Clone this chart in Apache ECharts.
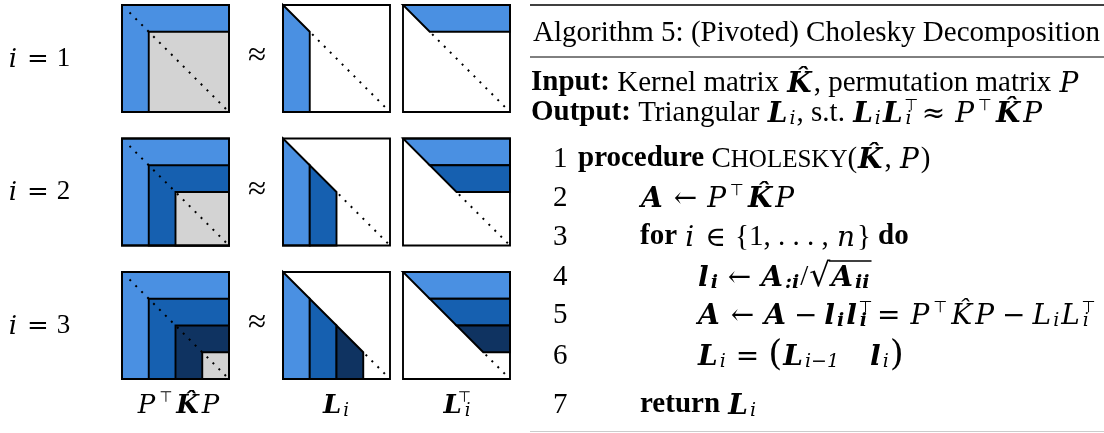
<!DOCTYPE html>
<html>
<head>
<meta charset="utf-8">
<script src="https://cdn.jsdelivr.net/npm/echarts@6/dist/echarts.min.js"></script>
<style>
  html, body { margin: 0; padding: 0; background: #fff; }
  #chart { width: 1104px; height: 433px; }
</style>
</head>
<body>
<div id="chart"></div>
<script>
// Pivot steps shown row by row, and the block layout of each matrix
const steps = [1, 2, 3];
const blockCount = 4;                       // each matrix is split into 4 x 4 blocks
const panels = ['kernel', 'factor', 'factorT'];
const blockColors = ['#4a90e2', '#1660b0', '#0f3361'];
const residualColor = '#d3d3d3';

// line numbers of the algorithm listing
const lineNumbers = ['1', '2', '3', '4', '5', '6', '7'];

const SERIF = 'Liberation Serif';
const MATH = 'DejaVu Serif';
const SYM = 'DejaVu Sans';
const BLACK = '#000';
const GRAY = '#858585';
const BLUE = '#2f80c0';

// geometry of the matrix panels
const colLeft = [122, 283, 403];
const rowTop = [5, 138.5, 272];
const boxSize = 107;

// rich-text styles for a given body size S
function makeRich(S) {
  const lh = Math.round(S * 1.26);
  const M = Math.round(S * 0.98);           // math letters (wider face)
  const sub = Math.round(S * 0.66);
  const supS = Math.round(S * 0.56);
  const subPad = [Math.round(S * 0.44), 1, 0, 0];
  const supPad = [0, 3, Math.round(S * 0.5), 2];
  const thick = Math.round(S * 0.3);
  const med = Math.round(S * 0.22);
  const text = { fontFamily: SERIF, fontSize: S, lineHeight: lh, color: BLACK };
  const math = { fontFamily: MATH, fontSize: M, lineHeight: lh, color: BLACK, fontStyle: 'italic', padding: [3, 2, 0, 1] };
  const mk = (base, extra) => Object.assign({}, base, extra);
  return {
    n: text,
    b: mk(text, { fontWeight: 'bold' }),
    g: mk(text, { color: GRAY }),
    blue: mk(text, { color: BLUE }),
    sc: mk(text, { fontSize: Math.round(S * 0.86), lineHeight: Math.round(S * 0.86), padding: [3, 0, 0, 0] }),
    mi: math,
    mb: mk(math, { fontWeight: 'bold' }),
    gmi: mk(math, { color: GRAY }),
    // relations with thick spacing, binary operators with medium spacing
    rel: mk(math, { fontStyle: 'normal', padding: [3, thick, 0, thick] }),
    grel: mk(math, { fontStyle: 'normal', color: GRAY, padding: [3, thick, 0, thick] }),
    bin: mk(math, { fontStyle: 'normal', padding: [3, med, 0, med] }),
    gbin: mk(math, { fontStyle: 'normal', color: GRAY, padding: [3, med, 0, med] }),
    mn: mk(text, {}),
    paren: mk(math, { fontStyle: 'normal', fontSize: Math.round(S * 1.25), padding: [0, 0, 0, 0] }),
    rad: mk(math, { fontStyle: 'normal', fontSize: Math.round(S * 1.15), padding: [0, 0, 0, 1] }),
    sub: { fontFamily: MATH, fontSize: sub, lineHeight: sub, fontStyle: 'italic', color: BLACK, padding: subPad },
    subb: { fontFamily: MATH, fontSize: sub, lineHeight: sub, fontStyle: 'italic', fontWeight: 'bold', color: BLACK, padding: subPad },
    gsub: { fontFamily: MATH, fontSize: sub, lineHeight: sub, fontStyle: 'italic', color: GRAY, padding: subPad },
    sup: { fontFamily: SYM, fontSize: supS, lineHeight: supS, color: BLACK, padding: supPad },
    gsup: { fontFamily: SYM, fontSize: supS, lineHeight: supS, color: GRAY, padding: supPad },
    // superscript stacked over the following subscript
    supk: { fontFamily: SYM, fontSize: supS, lineHeight: supS, color: BLACK, width: 1, padding: [0, 0, Math.round(S * 0.5), 0] },
    gsupk: { fontFamily: SYM, fontSize: supS, lineHeight: supS, color: GRAY, width: 1, padding: [0, 0, Math.round(S * 0.5), 0] }
  };
}

const KHAT = 'K\u0302';
const ARROW = '\u2190', TR = '\u22A4', MINUS = '\u2212';

const S_BODY = 29;
const richL = makeRich(S_BODY);
const richS = makeRich(27);

// token lists: [styleName, text]
const str = toks => toks.map(([s, x]) => s === '' ? x : '{' + s + '|' + x + '}').join('');

const header = [
  { x: 533, y: 33, toks: [['blue', 'Algorithm 5:'], ['n', ' (Pivoted) Cholesky Decomposition']] },
  { x: 531, y: 83, toks: [['b', 'Input:'], ['n', ' Kernel matrix '], ['mb', KHAT], ['n', ', '], ['g', 'permutation matrix '], ['gmi', 'P']] },
  { x: 531, y: 113, toks: [['b', 'Output:'], ['n', ' Triangular '], ['mb', 'L'], ['sub', 'i'], ['n', ', s.t. '], ['mb', 'L'], ['sub', 'i'],
      ['mb', 'L'], ['supk', TR], ['sub', 'i'], ['rel', '\u2248'], ['gmi', 'P'], ['gsup', TR], ['mb', KHAT], ['gmi', 'P']] }
];

const listing = [
  { x: 578, y: 159, toks: [['b', 'procedure '], ['n', 'C'], ['sc', 'HOLESKY'], ['n', '('], ['mb', KHAT], ['n', ', '], ['gmi', 'P'], ['n', ')']] },
  { x: 640, y: 198, toks: [['mb', 'A'], ['rel', ARROW], ['gmi', 'P'], ['gsup', TR], ['mb', KHAT], ['gmi', 'P']] },
  { x: 640, y: 237, toks: [['b', 'for '], ['mi', 'i'], ['rel', '\u2208'], ['mn', '{1, . . . , '], ['mi', 'n'], ['', '} '], ['b', 'do']] },
  { x: 697, y: 277, toks: [['mb', 'l'], ['subb', 'i'], ['rel', ARROW], ['mb', 'A'], ['subb', ':i'], ['mn', '/'], ['rad', '\u221A'], ['mb', 'A'], ['subb', 'ii']] },
  { x: 697, y: 315, toks: [['mb', 'A'], ['rel', ARROW], ['mb', 'A'], ['bin', MINUS], ['mb', 'l'], ['subb', 'i'], ['mb', 'l'], ['supk', TR], ['subb', 'i'],
      ['grel', '='], ['gmi', 'P'], ['gsup', TR], ['gmi', KHAT], ['gmi', 'P'], ['gbin', MINUS], ['gmi', 'L'], ['gsub', 'i'], ['gmi', 'L'], ['gsupk', TR], ['gsub', 'i']] },
  { x: 697, y: 356, toks: [['mb', 'L'], ['sub', 'i'], ['rel', '='], ['paren', '('], ['mb', 'L'], ['sub', 'i\u22121'], ['n', '    '], ['mb', 'l'], ['sub', 'i'], ['paren', ')']] },
  { x: 640, y: 405, toks: [['b', 'return '], ['mb', 'L'], ['sub', 'i']] }
];

const panelLabels = [
  [['gmi', 'P'], ['gsup', TR], ['mb', KHAT], ['gmi', 'P']],
  [['mb', 'L'], ['sub', 'i']],
  [['mb', 'L'], ['supk', TR], ['sub', 'i']]
];

// width of a run of tokens, as the text engine lays them out
const mctx = document.createElement('canvas').getContext('2d');
function tokWidth(rich, name, txt) {
  const st = rich[name];
  if (st.width != null) return st.width;
  mctx.font = (st.fontStyle || 'normal') + ' ' + (st.fontWeight || 'normal') + ' ' + st.fontSize + 'px "' + st.fontFamily + '"';
  const p = st.padding || [0, 0, 0, 0];
  return mctx.measureText(txt).width + p[1] + p[3];
}

// ---- matrix panels drawn with custom series on hidden value axes ----
const grids = [], xAxes = [], yAxes = [], series = [];

function panelRenderer(panel, step) {
  return function (params, api) {
    const k = api.value(0);
    const kind = api.value(2);
    const P = (x, y) => api.coord([x, y]);
    const stroke = { stroke: '#000', lineWidth: 1.9, lineJoin: 'miter' };
    if (kind === 2) {
      // frame and the dotted remainder of the diagonal
      const start = panel === 'kernel' ? 0 : step;
      const a = P(start, start), b = P(blockCount, blockCount);
      const lead = panel === 'kernel' ? 7.5 : 2.4;
      return {
        type: 'group',
        children: [
          { type: 'polygon', shape: { points: [P(0, 0), P(blockCount, 0), P(blockCount, blockCount), P(0, blockCount)] },
            style: Object.assign({ fill: null }, stroke) },
          { type: 'line', shape: { x1: a[0] + lead, y1: a[1] + lead, x2: b[0] - 1.5, y2: b[1] - 1.5 },
            style: { stroke: '#000', lineWidth: 2, lineDash: [2, 6.4] } }
        ]
      };
    }
    let pts;
    const fill = kind === 1 ? residualColor : blockColors[k];
    if (panel === 'kernel') {
      pts = [P(k, k), P(blockCount, k), P(blockCount, blockCount), P(k, blockCount)];
    } else if (panel === 'factor') {
      pts = [P(k, k), P(k + 1, k + 1), P(k + 1, blockCount), P(k, blockCount)];
    } else {
      pts = [P(k, k), P(blockCount, k), P(blockCount, k + 1), P(k + 1, k + 1)];
    }
    return { type: 'polygon', shape: { points: pts }, style: Object.assign({ fill: fill }, stroke) };
  };
}

steps.forEach((step, r) => {
  panels.forEach((panel, c) => {
    const gi = grids.length;
    grids.push({ left: colLeft[c], top: rowTop[r], width: boxSize, height: boxSize, containLabel: false });
    xAxes.push({ type: 'value', gridIndex: gi, min: 0, max: blockCount, show: false });
    yAxes.push({ type: 'value', gridIndex: gi, min: 0, max: blockCount, inverse: true, show: false });
    const data = [];
    for (let k = 0; k < step; k++) data.push([k, k, 0]);
    if (panel === 'kernel') data.push([step, step, 1]);
    data.push([0, 0, 2]);
    series.push({
      type: 'custom', xAxisIndex: gi, yAxisIndex: gi, data: data,
      renderItem: panelRenderer(panel, step), silent: true, clip: false, animation: false
    });
  });
});

// ---- text and rules ----
const graphic = [];
const textEl = (x, y, text, rich, S, align) => ({
  type: 'text', x: x, y: y, silent: true,
  style: { text: text, rich: rich, align: align || 'left', verticalAlign: 'middle',
           fontFamily: SERIF, fontSize: S, fill: BLACK, lineHeight: Math.round(S * 1.26) }
});

steps.forEach((step, r) => {
  const cy = rowTop[r] + boxSize / 2;
  graphic.push(textEl(39, cy, str([['mi', 'i'], ['rel', '='], ['mn', String(step)]]), richS, 27, 'center'));
  graphic.push(textEl(257, cy - 2, str([['mn', '\u2248']]), makeRich(33), 33, 'center'));
});
const labelX = [179, 336, 457];
panelLabels.forEach((lab, c) => graphic.push(textEl(labelX[c], 405, str(lab), richS, 27, 'center')));

header.forEach(h => graphic.push(textEl(h.x, h.y, str(h.toks), richL, S_BODY)));
listing.forEach((ln, i) => {
  graphic.push(textEl(553, ln.y, '{n|' + lineNumbers[i] + '}', richL, S_BODY));
  graphic.push(textEl(ln.x, ln.y, str(ln.toks), richL, S_BODY));
});

// vinculum of the square root on line 4
(function () {
  const ln = listing[3];
  let x = ln.x, x0 = null;
  ln.toks.forEach(([s, txt]) => {
    const w = tokWidth(richL, s, txt);
    if (s === 'rad') x0 = x + w - 1.5;
    x += w;
  });
  graphic.push({ type: 'line', silent: true, shape: { x1: x0, y1: ln.y - 16, x2: x + 1, y2: ln.y - 16 },
                 style: { stroke: '#000', lineWidth: 1.3 } });
})();

// rules of the algorithm box
graphic.push({ type: 'line', shape: { x1: 530, y1: 5, x2: 1104, y2: 5 }, style: { stroke: '#000', lineWidth: 1.6 } });
graphic.push({ type: 'line', shape: { x1: 530, y1: 57, x2: 1104, y2: 57 }, style: { stroke: '#000', lineWidth: 1 } });
graphic.push({ type: 'line', shape: { x1: 530, y1: 431.5, x2: 1104, y2: 431.5 }, style: { stroke: '#cccccc', lineWidth: 1 } });

const chart = echarts.init(document.getElementById('chart'), null, { renderer: 'canvas' });
chart.setOption({
  animation: false,
  backgroundColor: '#fff',
  grid: grids,
  xAxis: xAxes,
  yAxis: yAxes,
  series: series,
  graphic: graphic
});
</script>
</body>
</html>
